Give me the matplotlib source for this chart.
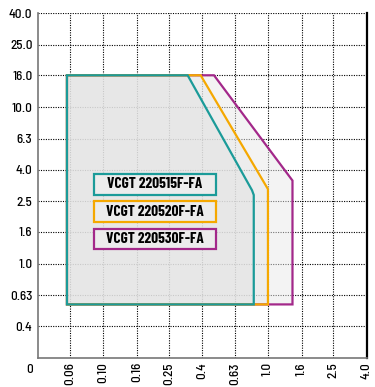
import matplotlib.pyplot as plt
from matplotlib.patches import Polygon, Rectangle

plt.rcParams['font.family'] = ['Barlow Semi Condensed', 'DejaVu Sans']
plt.rcParams['font.weight'] = 500

# axis ticks
x_ticks = [0.063, 0.1, 0.16, 0.25, 0.4, 0.63, 1.0, 1.6, 2.5, 4.0]
x_labels = ['0.06', '0.10', '0.16', '0.25', '0.4', '0.63', '1.0', '1.6', '2.5', '4.0']
y_ticks = [0.4, 0.63, 1.0, 1.6, 2.5, 4.0, 6.3, 10.0, 16.0, 25.0, 40.0]
y_labels = ['0.4', '0.63', '1.0', '1.6', '2.5', '4.0', '6.3', '10.0', '16.0', '25.0', '40.0']

# working areas (feed f, depth of cut ap)
names = ['VCGT 220515F-FA', 'VCGT 220520F-FA', 'VCGT 220530F-FA']
colors = ['#1b9b99', '#f5a800', '#a3288a']
f_515 = [0.06, 0.06, 0.325, 0.80, 0.82, 0.82]
ap_515 = [0.55, 16, 16, 2.95, 2.75, 0.55]
f_520 = [0.06, 0.06, 0.39, 1.0, 1.0]
ap_520 = [0.55, 16, 16, 3.0, 0.55]
f_530 = [0.06, 0.06, 0.47, 1.41, 1.41]
ap_530 = [0.55, 16, 16, 3.4, 0.55]

fig = plt.figure(figsize=(3.75, 3.87), dpi=100)
ax = fig.add_axes([0.1013, 0.0749, 0.8773, 0.8915])
ax.set_xscale('log')
ax.set_yscale('log')
ax.set_xlim(0.04, 4.0)
ax.set_ylim(0.25, 40.0)

ax.set_xticks(x_ticks)
ax.set_xticklabels(x_labels, rotation=90, fontsize=9.5)
ax.set_yticks(y_ticks)
ax.set_yticklabels(y_labels, fontsize=9.5)
ax.minorticks_off()
ax.tick_params(axis='x', length=0, pad=3)
ax.tick_params(axis='y', length=0, pad=4)
ax.grid(True, color='black', linestyle=(0, (1, 1.2)), linewidth=0.8, zorder=0)
ax.set_axisbelow(True)

for sp in ['left', 'bottom']:
    ax.spines[sp].set_color('#777777')
    ax.spines[sp].set_linewidth(1.2)
ax.spines['top'].set_visible(False)
ax.spines['right'].set_color('black')
ax.spines['right'].set_linewidth(1.6)

# layered fills: each layer half transparent so the grid shows through faintly
polys = [(f_530, ap_530, '#e9e9e9'), (f_520, ap_520, '#e8e8e8'), (f_515, ap_515, '#e2e2e2')]
for (fx, ay, fc), z in zip(polys, [2, 3, 4]):
    ax.add_patch(Polygon(list(zip(fx, ay)), closed=True, facecolor=fc, alpha=0.5,
                         edgecolor='none', zorder=z))
for (fx, ay, fc), col, z in zip(polys, colors[::-1], [5, 6, 7]):
    ax.add_patch(Polygon(list(zip(fx, ay)), closed=True, facecolor='none',
                         edgecolor=col, linewidth=1.6, zorder=z))

for i, (name, col) in enumerate(zip(names, colors)):
    yc = 0.503 - i * 0.079
    ax.add_patch(Rectangle((0.170, yc - 0.030), 0.371, 0.060, transform=ax.transAxes,
                           facecolor='#ececec', edgecolor=col, linewidth=1.6, zorder=8))
    ax.text(0.356, yc, name, transform=ax.transAxes, ha='center', va='center',
            fontsize=11, fontweight='bold', family=['Barlow Condensed', 'DejaVu Sans'],
            zorder=9)

ax.text(-0.024, -0.035, '0', transform=ax.transAxes, ha='center', va='center', fontsize=9.5)

fig.savefig('out.png', dpi=100)
